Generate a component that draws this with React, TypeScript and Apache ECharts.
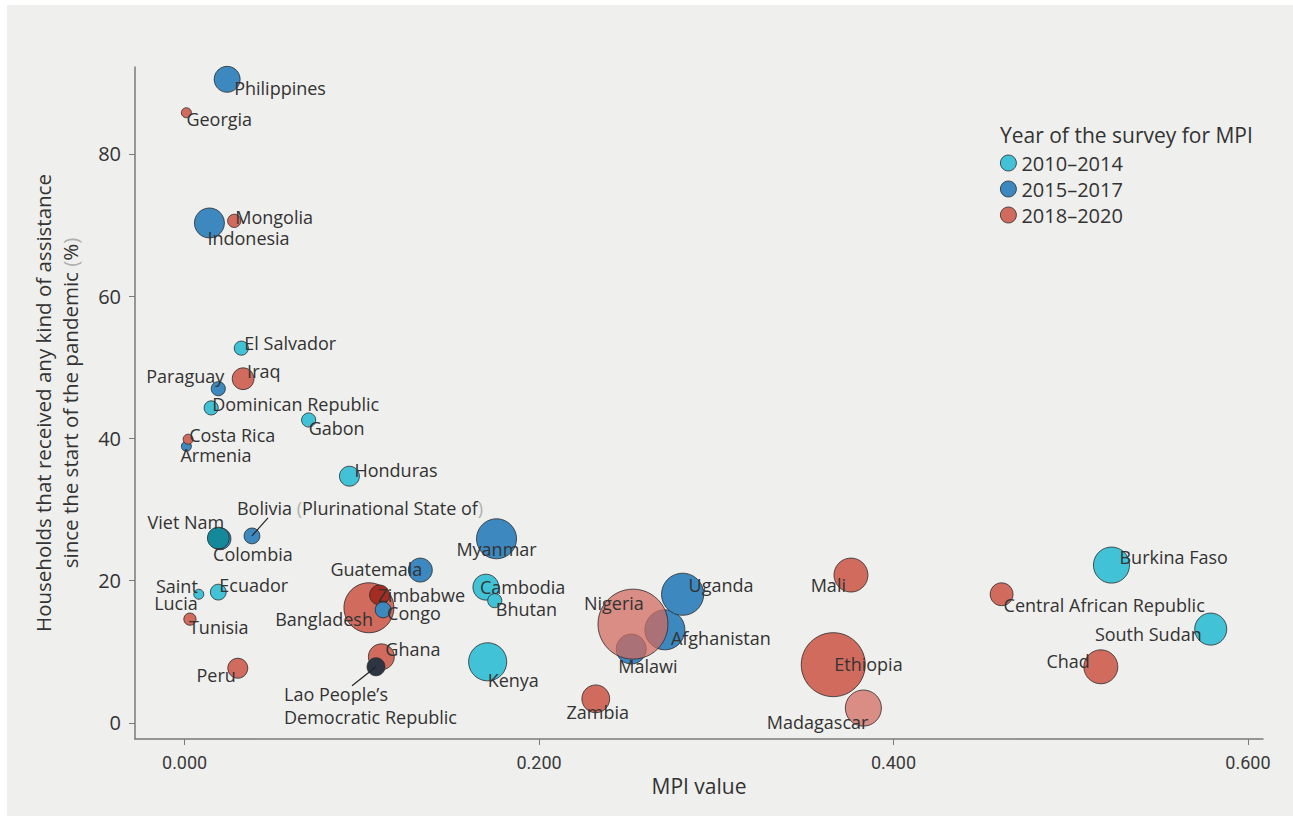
import React, { useEffect, useRef } from "react";
import * as echarts from "echarts";

// ---- Data ----
const countries = [
  "Philippines", "Georgia", "Mongolia", "Indonesia", "El Salvador", "Iraq", "Paraguay",
  "Dominican Republic", "Gabon", "Costa Rica", "Armenia", "Honduras", "Colombia", "Viet Nam",
  "Bolivia (Plurinational State of)", "Guatemala", "Myanmar", "Cambodia", "Bhutan", "Bangladesh",
  "Zimbabwe", "Congo", "Ghana", "Lao People’s Democratic Republic", "Kenya", "Zambia", "Malawi",
  "Afghanistan", "Nigeria", "Uganda", "Mali", "Ethiopia", "Madagascar", "Central African Republic",
  "Burkina Faso", "South Sudan", "Chad", "Saint Lucia", "Ecuador", "Tunisia", "Peru",
];
const mpiValue = [
  0.024, 0.001, 0.028, 0.014, 0.032, 0.033, 0.019,
  0.015, 0.070, 0.002, 0.001, 0.093, 0.020, 0.019,
  0.038, 0.133, 0.176, 0.170, 0.175, 0.104,
  0.110, 0.112, 0.111, 0.108, 0.171, 0.232, 0.252,
  0.271, 0.253, 0.281, 0.376, 0.366, 0.383, 0.461,
  0.523, 0.579, 0.517, 0.008, 0.019, 0.003, 0.030,
];
const assistanceShare = [
  90.5, 85.8, 70.6, 70.3, 52.7, 48.4, 47.0,
  44.3, 42.6, 39.9, 38.9, 34.7, 25.9, 26.0,
  26.3, 21.5, 25.9, 19.1, 17.2, 16.2,
  18.0, 15.9, 9.3, 7.9, 8.6, 3.4, 10.4,
  13.1, 13.9, 18.1, 20.8, 8.2, 2.1, 18.1,
  22.2, 13.2, 7.9, 18.1, 18.4, 14.6, 7.7,
];
// 0 = 2010–2014, 1 = 2015–2017, 2 = 2018–2020
const surveyPeriod = [
  1, 2, 2, 1, 0, 2, 1,
  0, 0, 2, 1, 0, 1, 0,
  1, 1, 1, 0, 0, 2,
  2, 1, 2, 1, 0, 2, 1,
  1, 2, 1, 2, 2, 2, 2,
  0, 0, 2, 0, 0, 2, 2,
];
const bubbleSize = [
  27, 4, 7, 36, 8, 19, 8,
  8, 8, 4, 4, 16, 19, 19,
  10, 23, 64, 27, 8, 100,
  16, 10, 27, 13, 58, 31, 36,
  64, 196, 71, 46, 164, 52, 21,
  52, 41, 46, 4, 10, 6, 16,
];
const periods = ["2010–2014", "2015–2017", "2018–2020"];
const xTicks = [0, 0.2, 0.4, 0.6];
const yTicks = [0, 20, 40, 60, 80];

// ---- Styling / label placement ----
const periodColors = ["#41c2d7", "#3c88bf", "#d16b5e"];
const colorOverride: Record<string, string> = {
  Zimbabwe: "#a52c20",
  "Lao People’s Democratic Republic": "#2d3542",
  "Viet Nam": "#13899a",
  Nigeria: "rgba(209,107,94,0.74)",
  Madagascar: "rgba(209,107,94,0.74)",
};
const drawnOnTop = new Set(["Viet Nam", "Congo", "Lao People’s Democratic Republic"]);

type Place = { a: "left" | "right" | "center"; dx: number; dy: number; lh?: number; text?: string };
const labelPlace: Record<string, Place> = {
  Philippines: { a: "left", dx: 7, dy: 9 },
  Georgia: { a: "left", dx: 0, dy: 6 },
  Mongolia: { a: "left", dx: 1, dy: -4 },
  Indonesia: { a: "left", dx: -2, dy: 15 },
  "El Salvador": { a: "left", dx: 3, dy: -5 },
  Iraq: { a: "left", dx: 4, dy: -8 },
  Paraguay: { a: "right", dx: 6, dy: -13 },
  "Dominican Republic": { a: "left", dx: 1, dy: -4 },
  Gabon: { a: "left", dx: 0, dy: 8 },
  "Costa Rica": { a: "left", dx: 1, dy: -4 },
  Armenia: { a: "left", dx: -6, dy: 9 },
  Honduras: { a: "left", dx: 5, dy: -6 },
  "Viet Nam": { a: "right", dx: 6, dy: -16 },
  Colombia: { a: "left", dx: -7, dy: 15 },
  "Bolivia (Plurinational State of)": { a: "left", dx: -15, dy: -28, text: "Bolivia {p|(}Plurinational State of{p|)}" },
  Guatemala: { a: "right", dx: 2, dy: -1 },
  Myanmar: { a: "center", dx: 0, dy: 10 },
  Cambodia: { a: "left", dx: -6, dy: 0 },
  Bhutan: { a: "left", dx: 1, dy: 8 },
  Bangladesh: { a: "right", dx: 4, dy: 11 },
  Zimbabwe: { a: "left", dx: -2, dy: 0 },
  Congo: { a: "left", dx: 4, dy: 3 },
  Ghana: { a: "left", dx: 4, dy: -8 },
  "Lao People’s Democratic Republic": { a: "left", dx: -92, dy: 39, lh: 23, text: "Lao People’s\nDemocratic Republic" },
  Kenya: { a: "left", dx: 0, dy: 18 },
  Zambia: { a: "center", dx: 2, dy: 13 },
  Malawi: { a: "left", dx: -13, dy: 17 },
  Afghanistan: { a: "left", dx: 6, dy: 8 },
  Nigeria: { a: "left", dx: -49, dy: -21 },
  Uganda: { a: "left", dx: 6, dy: -9 },
  Mali: { a: "right", dx: -5, dy: 10 },
  Ethiopia: { a: "left", dx: 1, dy: -1 },
  Madagascar: { a: "right", dx: 5, dy: 14 },
  "Central African Republic": { a: "left", dx: 2, dy: 11 },
  "Burkina Faso": { a: "left", dx: 8, dy: -8 },
  "South Sudan": { a: "right", dx: -9, dy: 5 },
  Chad: { a: "right", dx: -11, dy: -6 },
  "Saint Lucia": { a: "right", dx: -1, dy: 0, lh: 17, text: "Saint\nLucia" },
  Ecuador: { a: "left", dx: 1, dy: -7 },
  Tunisia: { a: "left", dx: -1, dy: 8 },
  Peru: { a: "right", dx: -2, dy: 7 },
};
// leader lines: [country, dx, dy] pixel offset of the line end from the bubble centre
const leaders: [string, number, number][] = [
  ["Bolivia (Plurinational State of)", 16, -18],
  ["Lao People’s Democratic Republic", -24, 19],
];

const FONT = "'Open Sans', sans-serif";
const TEXT = "#333333";
const AXIS = "#7a7a7a";
const LABEL_SIZE = 18;

export default function App() {
  const ref = useRef<HTMLDivElement>(null);

  useEffect(() => {
    if (!ref.current) return;
    const chart = echarts.init(ref.current, undefined, { renderer: "svg" });

    const series: any[] = [];
    [false, true].forEach((top) => {
      periods.forEach((p, pi) => {
        const idx = countries
          .map((_, i) => i)
          .filter((i) => surveyPeriod[i] === pi && drawnOnTop.has(countries[i]) === top);
        if (!idx.length) return;
        series.push({
          type: "scatter",
          name: p,
          z: 2,
          symbol: "circle",
          symbolSize: (v: number[]) => 5 * Math.sqrt(v[2]),
          itemStyle: { color: periodColors[pi], borderColor: "#2a2a2a", borderWidth: 0.8, opacity: 1 },
          emphasis: { disabled: true },
          data: idx.map((i) => {
            const name = countries[i];
            const pl = labelPlace[name];
            const it: any = {};
            if (colorOverride[name]) it.color = colorOverride[name];
            return {
              name,
              value: [mpiValue[i], assistanceShare[i], bubbleSize[i]],
              itemStyle: it,
              label: {
                show: true,
                position: "inside",
                align: pl.a,
                verticalAlign: "middle",
                offset: [pl.dx, pl.dy],
                lineHeight: pl.lh ?? 20,
                formatter: pl.text ?? name,
                fontFamily: FONT,
                fontSize: LABEL_SIZE,
                color: TEXT,
                rich: { p: { color: "#b0b0b0", fontFamily: FONT, fontSize: LABEL_SIZE } },
              },
            };
          }),
        });
      });
    });

    chart.setOption({
      animation: false,
      backgroundColor: "#efefed",
      grid: { left: 128, top: 62, right: 30, bottom: 77, containLabel: false },
      legend: {
        data: periods,
        orient: "vertical",
        left: 993,
        top: 148,
        padding: 0,
        itemWidth: 16,
        itemHeight: 16,
        itemGap: 6,
        icon: "circle",
        itemStyle: { borderWidth: 0.8, borderColor: "#2a2a2a", opacity: 1 },
        textStyle: { fontFamily: FONT, fontSize: 20, color: TEXT, padding: [0, 0, 0, 0] },
      },
      xAxis: {
        type: "value",
        min: -0.028,
        max: 0.6085,
        splitLine: { show: false },
        axisLine: { show: true, onZero: false, lineStyle: { color: AXIS, width: 1.5 } },
        axisTick: { show: true, customValues: xTicks, length: 6, lineStyle: { color: AXIS, width: 1 } },
        axisLabel: {
          customValues: xTicks,
          formatter: (v: number) => v.toFixed(3),
          fontFamily: "Roboto, sans-serif",
          fontSize: 18,
          color: "#3a3a3a",
          margin: 14,
        },
        name: "MPI value",
        nameLocation: "middle",
        nameGap: 33,
        nameTextStyle: { fontFamily: FONT, fontSize: 21, color: TEXT },
      },
      yAxis: {
        type: "value",
        min: -2.25,
        max: 92.23,
        splitLine: { show: false },
        axisLine: { show: true, onZero: false, lineStyle: { color: AXIS, width: 1.5 } },
        axisTick: { show: true, customValues: yTicks, length: 6, lineStyle: { color: AXIS, width: 1 } },
        axisLabel: {
          customValues: yTicks,
          fontFamily: FONT,
          fontSize: 20,
          color: TEXT,
          margin: 14,
        },
        name: "Households that received any kind of assistance\nsince the start of the pandemic {p|(}%{p|)}",
        nameLocation: "middle",
        nameGap: 52,
        nameTextStyle: {
          fontFamily: FONT,
          fontSize: 20.5,
          color: TEXT,
          lineHeight: 27,
          rich: { p: { color: "#b0b0b0", fontFamily: FONT, fontSize: 20.5 } },
        },
      },
      series,
    });

    const graphic: any[] = [
      {
        type: "text",
        left: 993,
        top: 119,
        style: { text: "Year of the survey for MPI", fontFamily: FONT, fontSize: 21, fill: TEXT },
      },
    ];
    leaders.forEach(([name, dx, dy]) => {
      const i = countries.indexOf(name);
      const pt = chart.convertToPixel({ gridIndex: 0 }, [mpiValue[i], assistanceShare[i]]) as number[];
      graphic.push({
        type: "line",
        z: 10,
        shape: { x1: pt[0], y1: pt[1], x2: pt[0] + dx, y2: pt[1] + dy },
        style: { stroke: "#222", lineWidth: 1.2 },
      });
    });
    chart.setOption({ graphic });

    return () => chart.dispose();
  }, []);

  return (
    <div
      ref={ref}
      style={{ position: "absolute", left: 7, top: 5, width: 1286, height: 811 }}
    />
  );
}
